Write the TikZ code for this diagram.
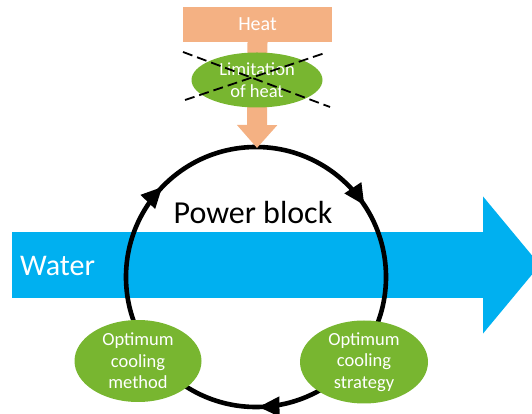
\documentclass[tikz,border=0pt]{standalone}
\usepackage{fontspec}
\setmainfont{Carlito}
\usetikzlibrary{arrows.meta,shapes.geometric,decorations.markings}

\definecolor{heatorange}{RGB}{244,177,131}
\definecolor{leafgreen}{RGB}{120,182,48}
\definecolor{waterblue}{RGB}{0,176,240}

\begin{document}
\begin{tikzpicture}[x=1pt,y=1pt,
  blob/.style={ellipse,fill=leafgreen,text=white,align=center,inner sep=-2pt,
    font=\fontsize{18.5}{21.5}\selectfont},
  cross/.style={line width=1.8pt,dash pattern=on 10pt off 5pt},
  loopline/.style={line width=4.6pt,postaction={decorate},decoration={markings,
    mark=at position 0.247 with {\arrow{Triangle[length=21pt,width=19pt]}},
    mark=at position 0.622 with {\arrow{Triangle[length=21pt,width=19pt]}},
    mark=at position 0.907 with {\arrow{Triangle[length=21pt,width=19pt]}}}}]
\useasboundingbox (0,0) rectangle (532,414);
\clip (0,0) rectangle (532,414);
%\draw (0,0) grid[step=50] (532,414);

% water
\coordinate (win) at (12,149);
\coordinate (wout) at (540,149);
\draw [waterblue,line width=66pt,-{Triangle[length=57pt,width=134pt]}] (win) -- (wout);
\node [anchor=west,inner sep=0,text=white,font=\fontsize{30}{36}\selectfont] (water) at (20,148) {Water};

% power block
\coordinate (block) at (256,137);
\coordinate (blocktop) at (257,266);
\draw [loopline] (block) ++(0:130) arc [start angle=0,end angle=-360,radius=130];
\node [font=\fontsize{32}{38}\selectfont] (power) at (253,201) {Power block};

% heat
\node [fill=heatorange,text=white,minimum width=149pt,minimum height=35pt,font=\fontsize{20}{24}\selectfont] (heat) at (257.5,389.5) {Heat};
\draw [heatorange,line width=20pt,-{Triangle[length=23pt,width=39pt]}] (heat.south) -- (blocktop);
\node [blob,inner sep=0pt,minimum width=131pt,minimum height=55pt] (limit) at (257,334) {Limitation\\of heat};
\coordinate (c1) at (183,362); \coordinate (c2) at (330,307);
\coordinate (c3) at (185,314); \coordinate (c4) at (325,361);
\draw [cross] (c1) -- (c2); \draw [cross] (c3) -- (c4);

% cooling
\node [blob,minimum width=127pt,minimum height=82pt] (method) at (138,53) {Optimum\\cooling\\method};
\node [blob,minimum width=128pt,minimum height=83pt] (strategy) at (364,52) {Optimum\\cooling\\strategy};
\end{tikzpicture}
\end{document}
